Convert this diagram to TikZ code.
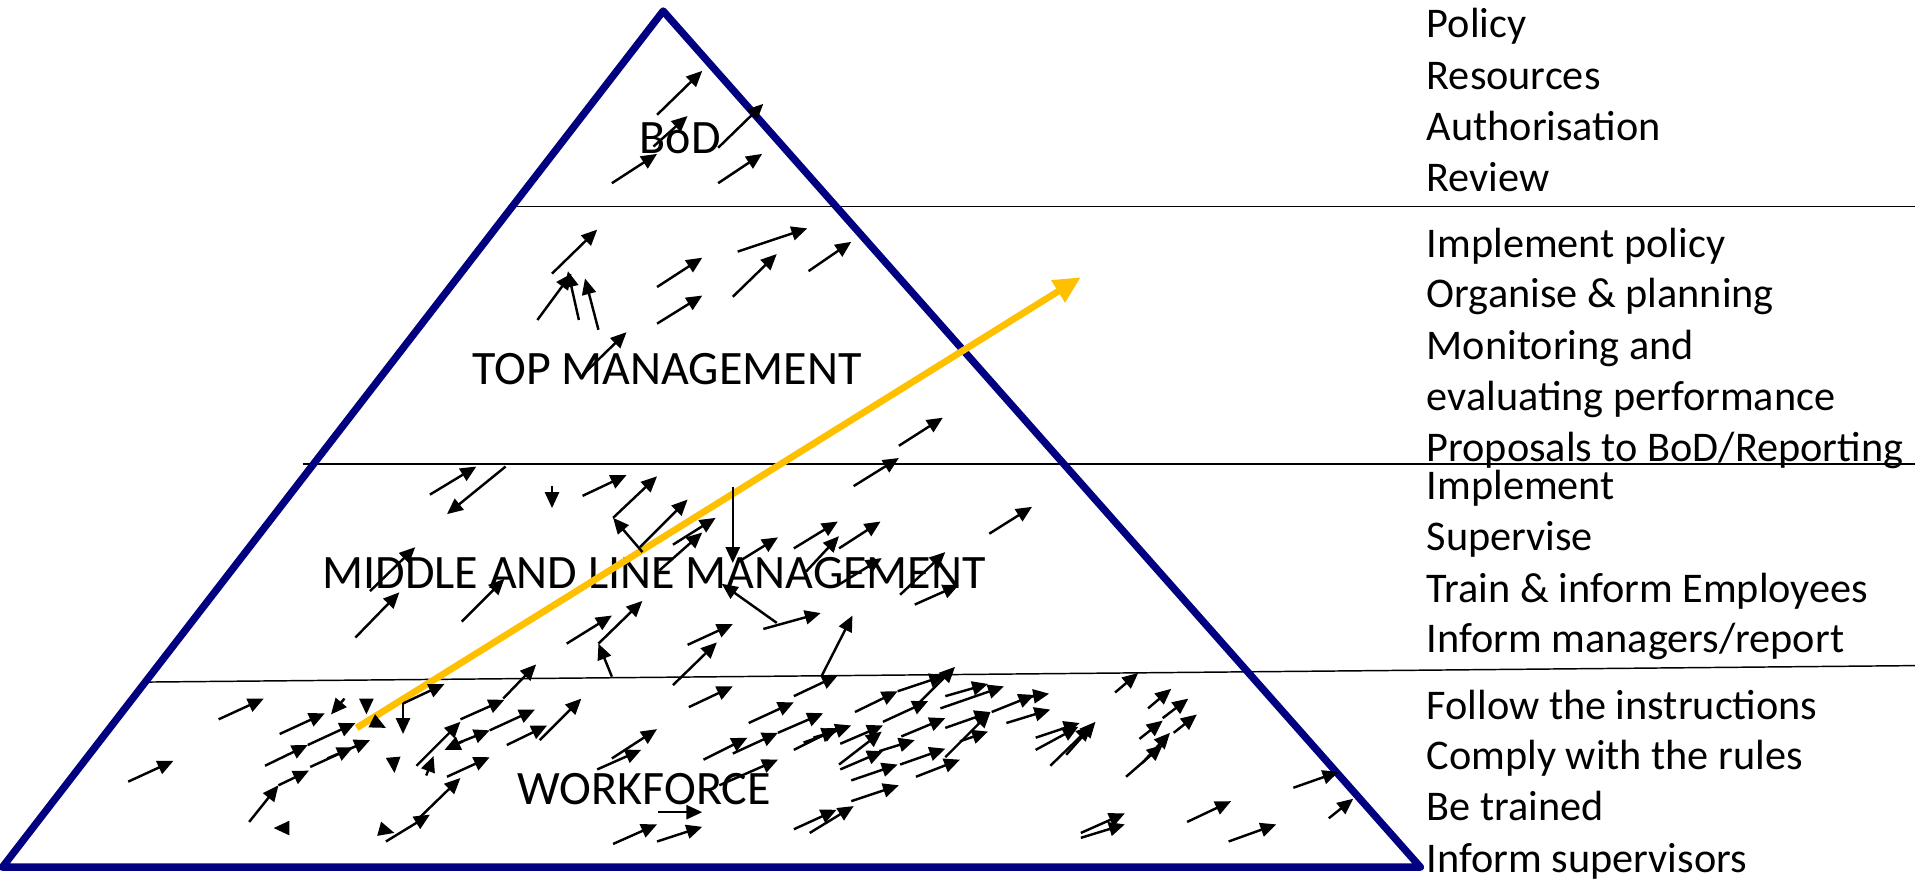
\documentclass[tikz,border=0pt]{standalone}
\usepackage{fontspec}
\setmainfont{Carlito}
\usetikzlibrary{arrows.meta}
\definecolor{pyrblue}{HTML}{000080}
\definecolor{gold}{HTML}{FFC000}
\tikzset{
  pyr/.style={draw=pyrblue, line width=6pt, line join=round},
  sep/.style={draw=black, line width=1.2pt},
  arr/.style={draw=black, line width=2pt, -{Triangle[length=13pt,width=11.5pt]}},
  gold arrow/.style={draw=gold, line width=5.5pt, -{Triangle[length=22pt,width=20pt]}},
  lbl/.style={anchor=base, inner sep=0pt, font=\fontsize{39.3}{46}\selectfont},
  rt/.style={anchor=base west, inner sep=0pt, font=\fontsize{34.6}{41.7}\selectfont}
}
\begin{document}
\begin{tikzpicture}[x=1pt,y=-1pt]
\useasboundingbox (0,0) rectangle (1568,720);
% separator lines
\draw[sep] (418,169) -- (1568,169);
\draw[sep] (248,380) -- (1568,380);
\draw[sep] (117,558.5) -- (1568,545);
% pyramid
\draw[pyr] (543,9) -- (1163,710) -- (2,710) -- cycle;
% level labels
\node[lbl] (bod) at (557,125.6) {BoD};
\node[lbl] (top) at (546,315) {TOP MANAGEMENT};
\node[lbl] (mid) at (535.6,482) {MIDDLE AND LINE MANAGEMENT};
\node[lbl] (wf) at (527.5,659) {WORKFORCE};
% right-hand texts
\node[rt] (r1) at (1168,31) {Policy};
\node[rt] (r2) at (1168,73) {Resources};
\node[rt] (r3) at (1168,115) {Authorisation};
\node[rt] (r4) at (1168,157) {Review};
\node[rt] (r5) at (1168,211) {Implement policy};
\node[rt] (r6) at (1168,252) {Organise \& planning};
\node[rt] (r7) at (1168,294) {Monitoring and};
\node[rt] (r8) at (1168,336) {evaluating performance};
\node[rt] (r9) at (1168,378) {Proposals to BoD/Reporting};
\node[rt] (r10) at (1168,409) {Implement};
\node[rt] (r11) at (1168,451) {Supervise};
\node[rt] (r12) at (1168,493) {Train \& inform Employees};
\node[rt] (r13) at (1168,534) {Inform managers/report};
\node[rt] (r14) at (1168,589) {Follow the instructions};
\node[rt] (r15) at (1168,630) {Comply with the rules};
\node[rt] (r16) at (1168,672) {Be trained};
\node[rt] (r17) at (1168,714) {Inform supervisors};
% yellow arrow
\coordinate (gs) at (292,596);
\coordinate (ge) at (885,227);
\draw[gold arrow] (gs) -- (ge);
% small black arrows
\foreach \a/\b/\c/\d in {
 538/94/575/58, 535/120/563/95, 501/150/538/126, 588/121/625/85, 588/150/624/126,
 452/224/489/188, 440/262/468/224, 474/262/465/222, 490/270/479/228, 538/235/575/211,
 538/265/575/242, 600/243/636/208, 604/206/661/187, 662/222/697/198, 477/307/513/272,
 736/365/772/342, 699/398/736/375,
 352/405/390/382, 414/382/366/421, 452/398/452/416, 477/406/513/389, 502/424/538/390,
 526/452/502/424, 524/448/563/409, 551/446/586/424, 540/467/575/436, 600/399/600/461,
 603/461/637/440, 650/449/686/427, 660/468/687/439, 687/449/721/427, 810/437/845/415,
 303/484/340/448, 291/522/327/485, 378/509/413/474, 464/527/501/504, 490/527/526/492,
 501/554/490/527, 551/561/587/526, 563/528/600/511, 636/510/591/478, 625/515/672/502,
 673/553/698/504, 688/478/722/457, 737/487/774/452, 749/495/785/479, 412/572/439/544,
 105/640/142/623, 179/589/216/572, 229/601/266/584, 282/572/271/585, 300/574/300/585,
 306/591/316/596, 330/576/364/560, 330/576/330/601, 217/627/252/610, 252/610/291/592,
 254/628/289/612, 268/621/303/606, 204/673/228/643, 228/643/253/631, 235/678/224/678,
 312/679/323/682, 316/689/352/667, 344/669/377/637, 322/621/323/633, 341/627/377/591,
 349/635/355/619, 379/607/364/614, 371/610/401/598, 401/598/438/581, 377/589/413/573,
 415/610/448/594, 366/636/401/620,
 442/606/476/572, 564/579/600/562, 501/621/538/597, 489/630/525/614, 576/622/612/604,
 600/617/637/600, 613/592/650/575, 650/570/686/553, 637/600/674/584, 589/643/637/622,
 539/665/575/665, 502/691/538/675, 538/689/575/677, 650/614/686/596, 658/608/697/594,
 666/604/686/598, 688/609/723/594, 687/626/722/599, 688/630/723/615, 720/615/749/606,
 697/639/735/626, 737/626/774/613, 697/656/736/643, 650/679/685/663, 663/682/699/660,
 700/583/735/566, 735/566/774/553, 723/591/760/574, 753/575/782/546, 738/603/774/588,
 750/636/786/622, 774/620/811/583, 774/570/809/560, 770/580/822/562,
 812/583/847/569, 835/572/859/568, 824/592/860/581, 774/596/811/583, 786/607/809/599,
 848/604/884/592, 848/614/883/595, 860/627/894/594, 873/618/897/591, 913/567/932/551,
 940/580/959/564, 952/588/973/572, 933/605/952/590, 961/600/980/585, 922/636/952/610,
 935/625/958/600, 885/682/921/666, 885/686/921/675, 972/673/1008/656, 1006/689/1045/675,
 1059/645/1096/632, 1088/670/1108/654}
 \draw[arr] (\a,\b) -- (\c,\d);
\end{tikzpicture}
\end{document}
